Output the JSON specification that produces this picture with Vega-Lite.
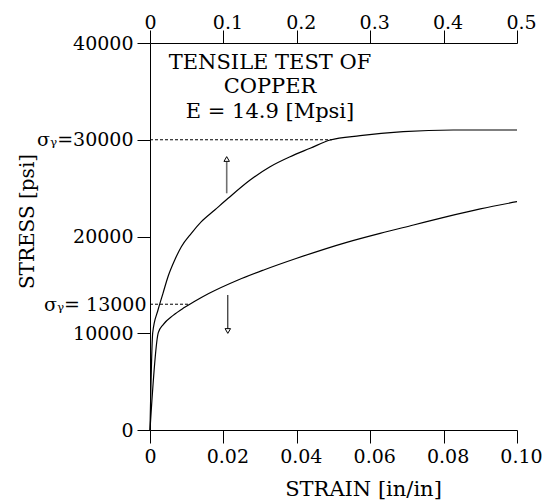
{
  "$schema": "https://vega.github.io/schema/vega-lite/v6.json",
  "width": 367,
  "height": 387,
  "autosize": "none",
  "padding": {"left": 150, "top": 43, "right": 35, "bottom": 70},
  "background": "white",
  "config": {
    "view": {"stroke": null},
    "font": "DejaVu Serif",
    "axis": {
      "domainColor": "black",
      "tickColor": "black",
      "labelColor": "black",
      "titleColor": "black",
      "labelFont": "DejaVu Serif",
      "titleFont": "DejaVu Serif",
      "labelFontSize": 19,
      "titleFontSize": 21,
      "titleFontWeight": "normal",
      "tickSize": 13,
      "grid": false
    }
  },
  "datasets": {
    "lower": [
      {"strain": 0, "stress": 0},
      {"strain": 0.00226, "stress": 10057},
      {"strain": 0.0036, "stress": 10900},
      {"strain": 0.0063, "stress": 11850},
      {"strain": 0.0091, "stress": 12600},
      {"strain": 0.0122, "stress": 13300},
      {"strain": 0.016, "stress": 14100},
      {"strain": 0.024, "stress": 15504},
      {"strain": 0.031, "stress": 16540},
      {"strain": 0.04, "stress": 17750},
      {"strain": 0.0536, "stress": 19400},
      {"strain": 0.0627, "stress": 20330},
      {"strain": 0.0718, "stress": 21190},
      {"strain": 0.0809, "stress": 22050},
      {"strain": 0.09, "stress": 22850},
      {"strain": 0.1, "stress": 23600}
    ],
    "upper": [
      {"strain": 0, "stress": 0},
      {"strain": 0.0037, "stress": 10057},
      {"strain": 0.0109, "stress": 12403},
      {"strain": 0.0177, "stress": 14129},
      {"strain": 0.0245, "stress": 15845},
      {"strain": 0.0337, "stress": 17571},
      {"strain": 0.0427, "stress": 18946},
      {"strain": 0.0563, "stress": 20331},
      {"strain": 0.07, "stress": 21530},
      {"strain": 0.0882, "stress": 22739},
      {"strain": 0.1064, "stress": 23948},
      {"strain": 0.1364, "stress": 25840},
      {"strain": 0.1636, "stress": 27215},
      {"strain": 0.1909, "stress": 28248},
      {"strain": 0.2182, "stress": 29116},
      {"strain": 0.2454, "stress": 29974},
      {"strain": 0.2863, "stress": 30418},
      {"strain": 0.345, "stress": 30832},
      {"strain": 0.413, "stress": 31008},
      {"strain": 0.5, "stress": 31008}
    ],
    "yield": [
      {"strain": 0, "strain2": 0.0496, "stress": 30000},
      {"strain": 0, "strain2": 0.0109, "stress": 13000}
    ],
    "arrowUp": [{"strain": 0.0209, "stress": 24465, "stress2": 27700}],
    "headUp": [{"strain": 0.0209, "stress": 28010}],
    "arrowDown": [{"strain": 0.0212, "stress": 13954, "stress2": 10439}],
    "headDown": [{"strain": 0.0212, "stress": 10233}],
    "note": [{"strain": 0.0327, "stress": 37313, "label": "TENSILE TEST OF\nCOPPER\nE = 14.9 [Mpsi]"}]
  },
  "encoding": {
    "y": {
      "field": "stress",
      "type": "quantitative",
      "scale": {"domain": [0, 40000], "nice": false, "zero": false},
      "axis": {
        "values": [0, 10000, 13000, 20000, 30000, 40000],
        "format": "d",
        "labelExpr": "datum.value == 30000 ? 'σᵧ=30000' : (datum.value == 13000 ? 'σᵧ= 13000' : datum.label)",
        "labelPadding": {"condition": {"test": "datum.value == 13000", "value": -9}, "value": 4},
        "tickOpacity": {"condition": {"test": "datum.value == 13000", "value": 0}, "value": 1},
        "title": "STRESS [psi]",
        "titleFontSize": 20,
        "titleX": -117,
        "titleY": 178,
        "titleAngle": 270,
        "titleAlign": "center",
        "titleBaseline": "alphabetic"
      }
    }
  },
  "layer": [
    {
      "encoding": {
        "x": {
          "field": "strain",
          "type": "quantitative",
          "scale": {"domain": [0, 0.1], "nice": false, "zero": false},
          "axis": {
            "orient": "bottom",
            "values": [0, 0.02, 0.04, 0.06, 0.08, 0.1],
            "labelExpr": "datum.value == 0 ? '0' : format(datum.value, '.2f')",
            "labelBaseline": "alphabetic",
            "labelPadding": 19,
            "labelOffset": {"condition": {"test": "datum.value == 0", "value": 0}, "value": 4},
            "labelFlush": false,
            "labelOverlap": false,
            "title": "STRAIN [in/in]",
            "titleX": 213,
            "titleY": 65,
            "titleAlign": "center",
            "titleBaseline": "alphabetic"
          }
        }
      },
      "layer": [
        {
          "data": {"name": "lower"},
          "mark": {"type": "line", "color": "black", "strokeWidth": 1.2, "interpolate": "monotone"}
        },
        {
          "data": {"name": "yield"},
          "mark": {"type": "rule", "color": "black", "strokeWidth": 1, "strokeDash": [3, 2]},
          "encoding": {"x2": {"field": "strain2"}}
        },
        {
          "data": {"name": "arrowUp"},
          "mark": {"type": "rule", "color": "#707070", "strokeWidth": 1.6},
          "encoding": {"y2": {"field": "stress2"}}
        },
        {
          "data": {"name": "arrowDown"},
          "mark": {"type": "rule", "color": "black", "strokeWidth": 1},
          "encoding": {"y2": {"field": "stress2"}}
        },
        {
          "data": {"name": "headUp"},
          "mark": {"type": "point", "shape": "triangle-up", "size": 30, "filled": true, "fill": "white", "stroke": "black", "strokeWidth": 1, "opacity": 1}
        },
        {
          "data": {"name": "headDown"},
          "mark": {"type": "point", "shape": "triangle-down", "size": 30, "filled": true, "fill": "white", "stroke": "black", "strokeWidth": 1, "opacity": 1}
        },
        {
          "data": {"name": "note"},
          "mark": {"type": "text", "font": "DejaVu Serif", "fontSize": 21, "align": "center", "baseline": "alphabetic", "lineBreak": "\n", "lineHeight": 24.5, "color": "black"},
          "encoding": {"text": {"field": "label"}}
        }
      ]
    },
    {
      "data": {"name": "upper"},
      "mark": {"type": "line", "color": "black", "strokeWidth": 1.2, "interpolate": "monotone"},
      "encoding": {
        "x": {
          "field": "strain",
          "type": "quantitative",
          "scale": {"domain": [0, 0.5], "nice": false, "zero": false},
          "axis": {
            "orient": "top",
            "values": [0, 0.1, 0.2, 0.3, 0.4, 0.5],
            "labelExpr": "datum.value == 0 ? '0' : format(datum.value, '.1f')",
            "labelBaseline": "alphabetic",
            "labelPadding": 2,
            "labelOffset": {"condition": {"test": "datum.value == 0", "value": 0}, "value": 4},
            "labelFlush": false,
            "labelOverlap": false,
            "title": null
          }
        }
      }
    }
  ],
  "resolve": {"scale": {"x": "independent"}}
}
